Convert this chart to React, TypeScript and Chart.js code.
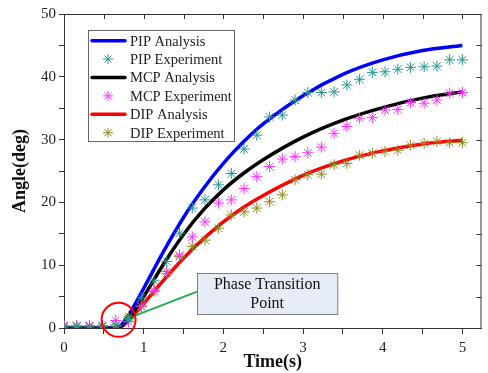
import React, { useEffect, useRef } from "react";
import { Chart, registerables } from "chart.js";

Chart.register(...registerables);

// Experiment sample times (s)
const expTimes = [0, 0.16, 0.32, 0.48, 0.65, 0.81, 0.97, 1.13, 1.29, 1.45, 1.61, 1.77, 1.94, 2.1, 2.26, 2.42,
  2.58, 2.74, 2.9, 3.06, 3.23, 3.39, 3.55, 3.71, 3.87, 4.03, 4.19, 4.35, 4.52, 4.68, 4.84, 5.0];
const pipExp = [0.3, 0.3, 0.3, 0.3, 0.5, 1.5, 4.8, 7.5, 10.6, 15.1, 19.1, 20.4, 22.8, 24.6, 28.5, 30.7,
  33.6, 33.9, 36.3, 37.5, 37.5, 37.6, 38.7, 39.6, 40.7, 40.8, 41.2, 41.5, 41.6, 41.7, 42.7, 42.7];
const mcpExp = [0.4, 0.4, 0.4, 0.4, 1.2, 1.0, 3.5, 6.0, 9.0, 11.6, 14.5, 16.9, 19.9, 20.4, 22.2, 24.1,
  25.7, 26.9, 27.3, 27.9, 28.8, 31.0, 32.1, 33.4, 33.5, 34.7, 34.8, 35.9, 35.8, 36.3, 37.4, 37.5];
const dipExp = [0.2, 0.2, 0.2, 0.2, 0.3, 1.8, 3.4, 5.8, 8.7, 11.4, 13.0, 14.0, 15.9, 18.0, 18.5, 19.1,
  20.1, 21.2, 23.6, 24.4, 24.5, 26.0, 26.2, 27.5, 27.8, 28.1, 28.3, 29.1, 29.4, 29.7, 29.5, 29.5];

// Analysis curve samples
const anaTimes = [0, 0.6, 0.7, 0.8, 0.9, 1.0, 1.25, 1.5, 1.75, 2.0, 2.25, 2.5, 3.0, 3.5, 4.0, 4.5, 5.0];
const pipAna = [0, 0, 0.3, 1.8, 4.0, 6.3, 12.2, 17.6, 22.2, 26.2, 29.6, 32.5, 37.0, 40.4, 42.7, 44.2, 45.0];
const mcpAna = [0, 0, 0.2, 1.2, 3.0, 5.0, 10.2, 14.9, 18.8, 22.0, 24.6, 26.8, 30.4, 33.1, 35.1, 36.6, 37.6];
const dipAna = [0, 0, 0.1, 1.0, 2.4, 3.9, 7.6, 11.1, 14.2, 16.9, 19.2, 21.1, 24.3, 26.6, 28.2, 29.3, 29.9];

const xTickLabels = ["0", "1", "2", "3", "4", "5"];
const yTickLabels = ["0", "10", "20", "30", "40", "50"];

const seriesLabels = ["PIP Analysis", "PIP Experiment", "MCP Analysis", "MCP Experiment", "DIP Analysis", "DIP Experiment"];
const seriesColors = ["#0000FF", "#2A9690", "#000000", "#FF30FF", "#FF0000", "#8C8C1E"];

const SERIF = "'Liberation Serif', 'Times New Roman', serif";

const pts = (xs: number[], ys: number[]) => xs.map((x, i) => ({ x, y: ys[i] }));

function drawStar(ctx: CanvasRenderingContext2D, x: number, y: number, r: number, color: string) {
  ctx.save();
  ctx.strokeStyle = color;
  ctx.lineWidth = 1;
  ctx.beginPath();
  for (let k = 0; k < 4; k++) {
    const a = (k * Math.PI) / 4;
    ctx.moveTo(x - r * Math.cos(a), y - r * Math.sin(a));
    ctx.lineTo(x + r * Math.cos(a), y + r * Math.sin(a));
  }
  ctx.stroke();
  ctx.restore();
}

const overlayPlugin = {
  id: "overlay",
  afterDatasetsDraw(chart: any) {
    const ctx: CanvasRenderingContext2D = chart.ctx;
    const xs = chart.scales.x;
    const ys = chart.scales.y;
    const ca = chart.chartArea;
    ctx.save();
    // frame top & right
    ctx.strokeStyle = "#333";
    ctx.lineWidth = 1;
    ctx.beginPath();
    ctx.moveTo(ca.left, ca.top + 0.5);
    ctx.lineTo(ca.right, ca.top + 0.5);
    ctx.moveTo(ca.right - 0.5, ca.top);
    ctx.lineTo(ca.right - 0.5, ca.bottom);
    for (let v = 0; v <= 5; v += 0.5) {
      const px = Math.round(xs.getPixelForValue(v)) + 0.5;
      ctx.moveTo(px, ca.top);
      ctx.lineTo(px, ca.top + 5);
    }
    for (let v = 0; v <= 50; v += 5) {
      const py = Math.round(ys.getPixelForValue(v)) + 0.5;
      ctx.moveTo(ca.right, py);
      ctx.lineTo(ca.right - 5, py);
    }
    ctx.stroke();

    // green connector
    ctx.strokeStyle = "#1FAF50";
    ctx.lineWidth = 2;
    ctx.beginPath();
    ctx.moveTo(xs.getPixelForValue(0.9), ys.getPixelForValue(2.0));
    ctx.lineTo(xs.getPixelForValue(1.67), ys.getPixelForValue(5.8));
    ctx.stroke();

    // red circle
    ctx.strokeStyle = "#FF0000";
    ctx.lineWidth = 2;
    ctx.beginPath();
    ctx.arc(xs.getPixelForValue(0.685), ys.getPixelForValue(1.3), 17, 0, Math.PI * 2);
    ctx.stroke();

    // phase transition box
    const bx1 = xs.getPixelForValue(1.67), bx2 = xs.getPixelForValue(3.43);
    const by1 = ys.getPixelForValue(8.76), by2 = ys.getPixelForValue(2.23);
    ctx.fillStyle = "#E6ECF6";
    ctx.fillRect(bx1, by1, bx2 - bx1, by2 - by1);
    ctx.strokeStyle = "#7A7F88";
    ctx.lineWidth = 1;
    ctx.strokeRect(Math.round(bx1) + 0.5, Math.round(by1) + 0.5, bx2 - bx1, by2 - by1);
    ctx.fillStyle = "#111";
    ctx.font = `16px ${SERIF}`;
    ctx.textAlign = "center";
    ctx.textBaseline = "middle";
    const cx = (bx1 + bx2) / 2;
    ctx.fillText("Phase Transition", cx, by1 + 12);
    ctx.fillText("Point", cx, by1 + 31);

    // legend
    const lx = 88, ly = 30, lw = 146, lh = 111;
    ctx.fillStyle = "#FFFFFF";
    ctx.fillRect(lx, ly, lw, lh);
    ctx.strokeStyle = "#666";
    ctx.lineWidth = 1;
    ctx.strokeRect(lx + 0.5, ly + 0.5, lw, lh);
    ctx.font = `14.5px ${SERIF}`;
    ctx.textAlign = "left";
    ctx.textBaseline = "middle";
    seriesLabels.forEach((label, i) => {
      const y = 40.7 + i * 18.4;
      const color = seriesColors[i];
      if (i % 2 === 0) {
        ctx.strokeStyle = color;
        ctx.lineWidth = 3.5;
        ctx.lineCap = "round";
        ctx.beginPath();
        ctx.moveTo(92, y);
        ctx.lineTo(125, y);
        ctx.stroke();
        ctx.lineCap = "butt";
      } else {
        drawStar(ctx, 108, y, 5, color);
      }
      ctx.fillStyle = "#222";
      ctx.fillText(label, 130, y + 1);
    });
    ctx.restore();
  },
};

export default function App() {
  const ref = useRef<HTMLCanvasElement | null>(null);
  useEffect(() => {
    document.body.style.margin = "0";
    if (!ref.current) return;
    const lineDs = (i: number, ys: number[]) => ({
      type: "line" as const,
      label: seriesLabels[i],
      data: pts(anaTimes, ys),
      borderColor: seriesColors[i],
      backgroundColor: seriesColors[i],
      borderWidth: 3.5,
      pointRadius: 0,
      cubicInterpolationMode: "monotone" as const,
      fill: false,
      order: 2,
    });
    const starDs = (i: number, ys: number[]) => ({
      type: "scatter" as const,
      label: seriesLabels[i],
      data: pts(expTimes, ys),
      borderColor: seriesColors[i],
      backgroundColor: seriesColors[i],
      pointStyle: "star",
      pointRadius: 5.5,
      pointBorderWidth: 1,
      showLine: false,
      order: 1,
    });
    const chart = new Chart(ref.current, {
      type: "scatter",
      data: {
        datasets: [
          lineDs(0, pipAna),
          starDs(1, pipExp),
          lineDs(2, mcpAna),
          starDs(3, mcpExp),
          lineDs(4, dipAna),
          starDs(5, dipExp),
        ] as any,
      },
      options: {
        animation: false,
        responsive: false,
        maintainAspectRatio: false,
        layout: { padding: { top: 14, right: 1, left: 0, bottom: 0 } },
        plugins: { legend: { display: false }, tooltip: { enabled: false } },
        scales: {
          x: {
            type: "linear",
            min: 0,
            max: 5.24,
            ticks: {
              stepSize: 0.5,
              includeBounds: false,
              autoSkip: false,
              maxRotation: 0,
              padding: 5,
              color: "#222",
              font: { family: SERIF, size: 15 },
              callback: (v: any) => (Number.isInteger(v) ? xTickLabels[v] ?? "" : ""),
            },
            grid: { drawOnChartArea: false, tickLength: 6, color: "#333", tickWidth: 1 },
            border: { color: "#333", width: 1 },
            title: {
              display: true,
              text: "Time(s)",
              color: "#111",
              font: { family: SERIF, size: 18, weight: "bold" },
              padding: { top: 0, bottom: 0 },
            },
            afterFit: (s: any) => {
              s.height = 45;
            },
          },
          y: {
            type: "linear",
            min: 0,
            max: 50,
            ticks: {
              stepSize: 5,
              includeBounds: false,
              autoSkip: false,
              padding: 3,
              color: "#222",
              font: { family: SERIF, size: 15 },
              callback: (v: any) => (v % 10 === 0 ? yTickLabels[v / 10] ?? "" : ""),
            },
            grid: { drawOnChartArea: false, tickLength: 5, color: "#333", tickWidth: 1 },
            border: { color: "#333", width: 1 },
            title: {
              display: true,
              text: "Angle(deg)",
              color: "#111",
              font: { family: SERIF, size: 18, weight: "bold" },
              padding: { top: 10, bottom: 0 },
            },
            afterFit: (s: any) => {
              s.width = 64;
            },
          },
        },
      } as any,
      plugins: [overlayPlugin],
    });
    return () => chart.destroy();
  }, []);
  return <canvas ref={ref} width={488} height={373} style={{ display: "block" }} />;
}
